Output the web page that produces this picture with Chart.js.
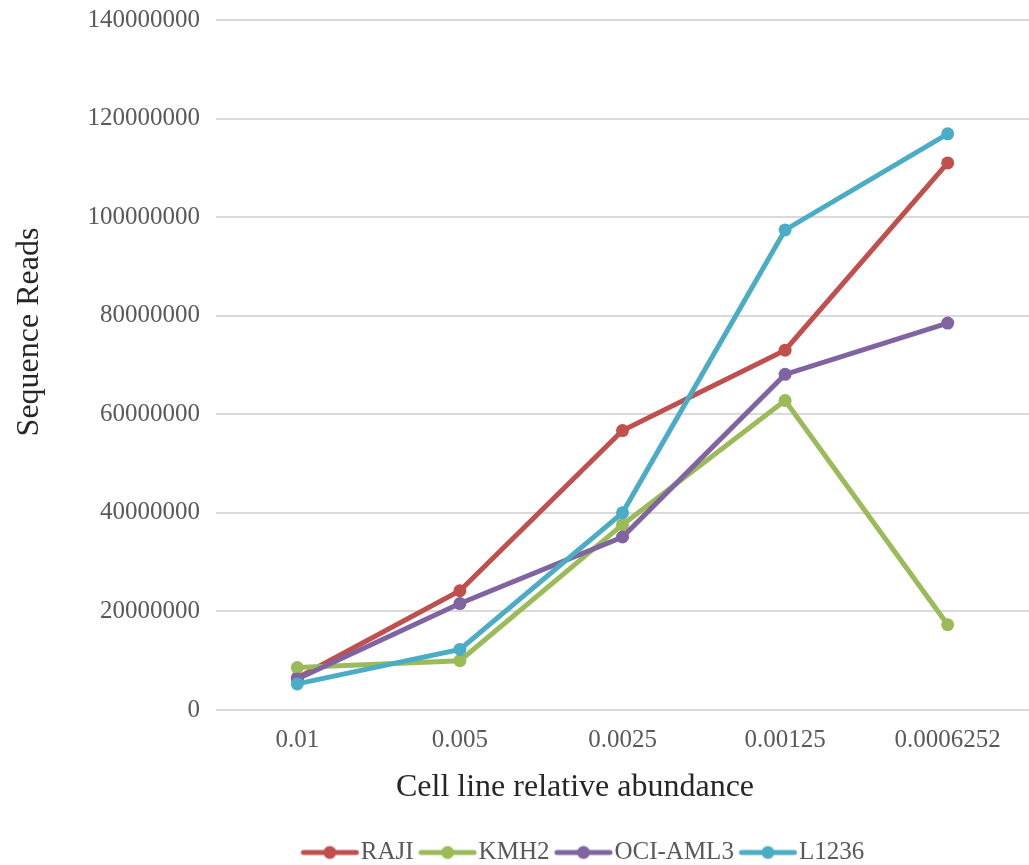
<!DOCTYPE html>
<html>
<head>
<meta charset="utf-8">
<script src="https://cdn.jsdelivr.net/npm/chart.js@4.4.1/dist/chart.umd.min.js"></script>
<style>
    html, body { margin: 0; padding: 0; background: #fff; overflow: hidden; }
    #wrap { width: 1029px; height: 865px; }
</style>
</head>
<body>
<div id="wrap"><canvas id="readsChart"></canvas></div>
<script>
// x categories (relative abundance) and reads per cell line
const abundanceLabels = ["0.01", "0.005", "0.0025", "0.00125", "0.0006252"];
const seriesNames = ["RAJI", "KMH2", "OCI-AML3", "L1236"];
const rajiReads = [6500000, 24200000, 56700000, 73000000, 111000000];
const kmh2Reads = [8600000, 10000000, 37600000, 62800000, 17300000];
const ociAml3Reads = [6300000, 21600000, 35100000, 68100000, 78500000];
const l1236Reads = [5300000, 12300000, 40000000, 97400000, 116900000];
const yTicks = [0, 20000000, 40000000, 60000000, 80000000, 100000000, 120000000, 140000000];
const xTitle = "Cell line relative abundance";
const yTitle = "Sequence Reads";

const seriesColors = ["#C0504D", "#9BBB59", "#8064A2", "#4BACC6"];
const serifFont = "'Liberation Serif', 'Times New Roman', serif";

/// legend marker: a short line with a dot in the middle
function legendMarker(color) {
    const c = document.createElement("canvas");
    c.width = 72; c.height = 16;
    const g = c.getContext("2d");
    g.strokeStyle = color;
    g.lineWidth = 5;
    g.lineCap = "round";
    g.beginPath(); g.moveTo(14.75, 8); g.lineTo(67.75, 8); g.stroke();
    g.fillStyle = color;
    g.beginPath(); g.arc(41.25, 8, 6.5, 0, Math.PI * 2); g.fill();
    return c;
}

const allData = [rajiReads, kmh2Reads, ociAml3Reads, l1236Reads];
const datasets = allData.map(function (values, i) {
    return {
        label: seriesNames[i],
        data: values,
        borderColor: seriesColors[i],
        backgroundColor: seriesColors[i],
        borderWidth: 5,
        pointRadius: 6.5,
        pointHoverRadius: 6.5,
        pointBorderWidth: 0,
        tension: 0,
        order: 4 - i,   // later series drawn on top, like the original
    };
});

const markers = seriesColors.map(legendMarker);

// axis titles sit off-centre in the original, so draw them here
const axisTitlesPlugin = {
    id: "axisTitles",
    afterDraw(chart) {
        const ctx = chart.ctx;
        ctx.save();
        ctx.fillStyle = "#262626";
        ctx.font = "32px " + serifFont;
        ctx.textAlign = "center";
        ctx.textBaseline = "middle";
        ctx.fillText(xTitle, 575, 788);
        ctx.translate(30, 332);
        ctx.rotate(-Math.PI / 2);
        ctx.fillText(yTitle, 0, 0);
        ctx.restore();
    },
};

// legend is centred a bit right of the canvas middle
const legendShiftPlugin = {
    id: "legendShift",
    afterLayout(chart) {
        chart.legend.left += 68;
        chart.legend.right += 68;
    },
};

const padBottom = -10;

new Chart(document.getElementById("readsChart"), {
    type: "line",
    data: { labels: abundanceLabels, datasets: datasets },
    plugins: [axisTitlesPlugin, legendShiftPlugin],
    options: {
        responsive: true,
        maintainAspectRatio: false,
        animation: false,
        layout: { autoPadding: false, padding: { top: 20, right: 0, bottom: padBottom, left: 0 } },
        plugins: {
            tooltip: { enabled: false },
            legend: {
                position: "bottom",
                labels: {
                    usePointStyle: true,
                    pointStyleWidth: 47.5,
                    padding: 5,
                    color: "#595959",
                    font: { family: serifFont, size: 25 },
                    generateLabels: function (chart) {
                        return chart.data.datasets.map(function (ds, i) {
                            return {
                                text: ds.label,
                                pointStyle: markers[i],
                                fillStyle: ds.borderColor,
                                strokeStyle: ds.borderColor,
                                lineWidth: 0,
                                fontColor: "#595959",
                                hidden: false,
                                datasetIndex: i,
                            };
                        });
                    },
                },
            },
        },
        scales: {
            x: {
                offset: true,
                grid: { display: false, drawTicks: false },
                border: { display: false },
                ticks: {
                    color: "#595959",
                    padding: 15,
                    maxRotation: 0,
                    font: { family: serifFont, size: 25 },
                },
                afterFit: function (scale) {
                    scale.height = scale.chart.height - 710 - scale.chart.legend.height - padBottom;
                    scale.paddingLeft = 0;
                    scale.paddingRight = 0;
                },
            },
            y: {
                min: 0,
                max: 140000000,
                afterBuildTicks: function (scale) {
                    scale.ticks = yTicks.map(v => ({ value: v }));
                },
                grid: { color: "#D9D9D9", lineWidth: 2, drawTicks: false },
                border: { display: false },
                ticks: {
                    color: "#595959",
                    padding: 16,
                    font: { family: serifFont, size: 25 },
                    callback: function (v) { return String(v); },
                },
                afterFit: function (scale) {
                    scale.width = 216;
                    scale.paddingTop = 0;
                    scale.paddingBottom = 0;
                },
            },
        },
    },
});
</script>
</body>
</html>
